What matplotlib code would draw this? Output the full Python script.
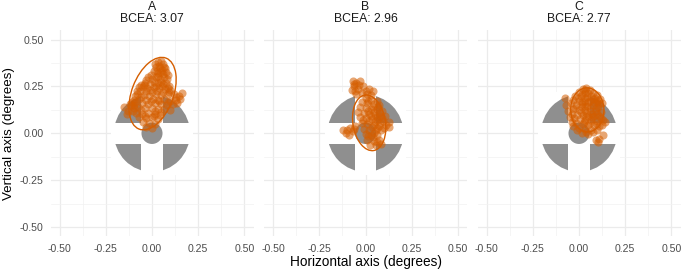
import matplotlib
matplotlib.use("Agg")
import matplotlib.pyplot as plt
from matplotlib.patches import Circle, Rectangle, Ellipse

plt.rcParams['font.family'] = ['Liberation Sans', 'DejaVu Sans']

# ---------------- data ----------------
panels = ["A", "B", "C"]
bcea = ["3.07", "2.96", "2.77"]

a_x = [0.03, 0.05, 0.06, 0.04, 0.07, 0.02, 0.055, 0.075, 0.01, 0.035, 0.06, 0.085,
       -0.02, 0.0, 0.02, 0.045, 0.08, -0.04, -0.01, 0.03, 0.06, 0.09, -0.05, -0.025, 0.01, 0.04, 0.07, 0.1, -0.065, 0.0,
       -0.08, -0.045, -0.015, 0.02, 0.05, 0.085, 0.12, 0.145, -0.07, -0.03, 0.005, 0.035, 0.065, 0.1, 0.13,
       -0.09, -0.055, -0.02, 0.015, 0.05, 0.08, 0.115, -0.075, -0.04, 0.0, 0.03, 0.065, 0.1,
       -0.15, -0.13, -0.115, -0.105, -0.135,
       0.16, 0.15, 0.135,
       -0.085, -0.055, -0.02, 0.015, 0.045, -0.07, -0.035, 0.0, 0.03, -0.05, -0.015, 0.015, -0.03, 0.0,
       0.015, 0.045, 0.065, 0.025, 0.05, -0.005, 0.03, 0.065, -0.03, 0.01, 0.05, 0.075, -0.045, 0.02, 0.055, 0.085,
       -0.035, -0.01, 0.025, 0.06, 0.09, -0.06, -0.005, 0.04, 0.085, -0.06, 0.015, 0.05, -0.1, 0.13, -0.04, 0.01,
       -0.1, -0.09, -0.11, -0.07, -0.06, -0.095, -0.08, -0.12]
a_y = [0.38, 0.385, 0.37, 0.36, 0.35, 0.355, 0.34, 0.33, 0.335, 0.32, 0.315, 0.31,
       0.30, 0.29, 0.30, 0.29, 0.29, 0.27, 0.265, 0.27, 0.265, 0.255, 0.245, 0.24, 0.245, 0.24, 0.235, 0.23, 0.225, 0.22,
       0.21, 0.205, 0.2, 0.21, 0.205, 0.21, 0.21, 0.2, 0.185, 0.18, 0.185, 0.18, 0.185, 0.175, 0.18,
       0.165, 0.16, 0.155, 0.16, 0.155, 0.15, 0.155, 0.14, 0.135, 0.135, 0.13, 0.13, 0.125,
       0.14, 0.12, 0.145, 0.12, 0.105,
       0.215, 0.185, 0.16,
       0.11, 0.105, 0.11, 0.105, 0.1, 0.085, 0.08, 0.085, 0.075, 0.06, 0.055, 0.05, 0.035, 0.03,
       0.37, 0.35, 0.355, 0.335, 0.325, 0.31, 0.305, 0.3, 0.285, 0.275, 0.275, 0.27, 0.26, 0.255, 0.25, 0.24,
       0.225, 0.23, 0.225, 0.22, 0.22, 0.195, 0.17, 0.17, 0.165, 0.125, 0.12, 0.115, 0.15, 0.195, 0.095, 0.09,
       0.18, 0.2, 0.165, 0.245, 0.26, 0.135, 0.225, 0.155]

b_x = [-0.07, -0.05, -0.03, -0.06, -0.04, -0.015, -0.075, -0.02, 0.0, 0.02, 0.04, 0.03, -0.05,
       0.0, 0.03, 0.06, -0.02, 0.01, 0.045, 0.075, -0.03, 0.0, 0.03, 0.06, 0.09, -0.04, -0.01, 0.02, 0.05, 0.08, 0.105,
       -0.03, 0.0, 0.035, 0.065, 0.095, -0.02, 0.01, 0.045, 0.075, 0.11, -0.01, 0.02, 0.055, 0.085,
       -0.12, -0.105, -0.085, -0.07, -0.055, -0.09,
       0.13, 0.125,
       0.0, 0.03, 0.065, 0.01, 0.045, 0.075, 0.025, 0.055, 0.085,
       -0.065, -0.035, -0.055, 0.01, 0.015, 0.04, 0.07, 0.015, 0.045, 0.075, 0.03, 0.06, 0.09,
       -0.015, 0.02, 0.05, 0.08, 0.035, 0.065, 0.1, 0.045, 0.015, 0.04, -0.1, -0.065, 0.06]
b_y = [0.28, 0.27, 0.28, 0.25, 0.235, 0.25, 0.23, 0.215, 0.225, 0.235, 0.225, 0.205, 0.21,
       0.19, 0.18, 0.175, 0.165, 0.16, 0.155, 0.15, 0.14, 0.135, 0.13, 0.13, 0.12, 0.115, 0.11, 0.105, 0.1, 0.095, 0.09,
       0.085, 0.08, 0.075, 0.07, 0.065, 0.055, 0.05, 0.045, 0.04, 0.045, 0.025, 0.02, 0.015, 0.02,
       0.02, 0.0, 0.03, 0.01, 0.04, -0.01,
       0.06, 0.035,
       -0.005, -0.01, -0.01, -0.035, -0.04, -0.035, -0.06, -0.065, -0.055,
       0.265, 0.26, 0.225, 0.21, 0.17, 0.14, 0.14, 0.12, 0.115, 0.11, 0.09, 0.085, 0.08,
       0.07, 0.065, 0.06, 0.055, 0.035, 0.03, 0.03, 0.0, -0.015, -0.02, 0.015, 0.025, -0.045]

c_x = [0.02, 0.04, 0.06, 0.0, 0.03, 0.075, 0.1, -0.02, 0.01, 0.045, 0.085, 0.115,
       -0.035, 0.0, 0.03, 0.06, 0.095, 0.125, -0.045, -0.015, 0.015, 0.045, 0.075, 0.105,
       -0.03, 0.0, 0.03, 0.06, 0.09, 0.12, -0.04, -0.01, 0.02, 0.05, 0.08, 0.11,
       -0.025, 0.005, 0.035, 0.065, 0.095, 0.13, -0.015, 0.02, 0.05, 0.08, 0.11,
       0.0, 0.035, 0.065, 0.1, 0.14,
       -0.075, -0.07, -0.06, -0.05,
       -0.03, 0.015, 0.05, 0.09, 0.11, 0.13, 0.105,
       0.03, 0.05, 0.07, 0.04,
       0.03, 0.05, 0.015, 0.065, 0.03, -0.005, 0.075, 0.1, 0.015, 0.08, 0.11, -0.02, 0.015, 0.06,
       0.09, 0.01, 0.1, 0.07, 0.04, 0.12, 0.025, 0.06, 0.095, 0.125, -0.04, 0.075, -0.01, 0.04]
c_y = [0.235, 0.24, 0.23, 0.22, 0.215, 0.215, 0.205, 0.2, 0.2, 0.195, 0.19, 0.185,
       0.18, 0.175, 0.17, 0.175, 0.165, 0.16, 0.16, 0.15, 0.155, 0.145, 0.15, 0.14,
       0.13, 0.125, 0.125, 0.12, 0.12, 0.115, 0.105, 0.1, 0.1, 0.095, 0.095, 0.09,
       0.08, 0.075, 0.07, 0.07, 0.065, 0.07, 0.055, 0.05, 0.045, 0.045, 0.04,
       0.03, 0.025, 0.02, 0.02, 0.06,
       0.19, 0.15, 0.12, 0.085,
       0.04, 0.0, -0.005, -0.035, -0.03, -0.01, -0.045,
       0.145, 0.165, 0.105, 0.11,
       0.23, 0.215, 0.21, 0.2, 0.19, 0.19, 0.185, 0.18, 0.165, 0.165, 0.155, 0.135, 0.14, 0.135,
       0.135, 0.115, 0.105, 0.085, 0.085, 0.08, 0.06, 0.055, 0.05, 0.045, 0.06, 0.005, 0.015, 0.005]

points_x = [a_x, b_x, c_x]
points_y = [a_y, b_y, c_y]

# BCEA ellipses: centre x, centre y, full width, full height, angle (deg)
ell_cx = [0.003, 0.02, 0.045]
ell_cy = [0.212, 0.056, 0.125]
ell_w = [0.406, 0.30, 0.235]
ell_h = [0.225, 0.176, 0.18]
ell_ang = [68.8, 99.4, 92.0]

ticks = [-0.50, -0.25, 0.00, 0.25, 0.50]
tick_labels = ["-0.50", "-0.25", "0.00", "0.25", "0.50"]
minor_ticks = [-0.375, -0.125, 0.125, 0.375]

# fixation target geometry
target_r = 0.206
target_gap = 0.057
target_dot = 0.057
target_bg = 0.22

orange = "#D55E00"
gray = "#8F8F8F"

W, H = 685, 271
fig = plt.figure(figsize=(W / 100, H / 100), dpi=100)

centers = [152, 365.5, 579]
pw = 203
ph = 206
ptop = 30.3

for i, name in enumerate(panels):
    left = (centers[i] - pw / 2) / W
    bottom = (H - (ptop + ph)) / H
    ax = fig.add_axes([left, bottom, pw / W, ph / H])
    ax.set_xlim(-0.55, 0.55)
    ax.set_ylim(-0.55, 0.55)
    ax.set_xticks(ticks)
    ax.set_xticklabels(tick_labels)
    ax.set_yticks(ticks)
    ax.set_xticks(minor_ticks, minor=True)
    ax.set_yticks(minor_ticks, minor=True)
    if i == 0:
        ax.set_yticklabels(tick_labels)
    else:
        ax.set_yticklabels([])
    ax.tick_params(which="both", length=0, labelsize=7.6, colors="#4D4D4D")
    ax.tick_params(axis="x", pad=5.5)
    ax.tick_params(axis="y", pad=5)
    ax.grid(which="major", color="#EBEBEB", linewidth=0.9)
    ax.grid(which="minor", color="#F2F2F2", linewidth=0.5)
    ax.set_axisbelow(True)
    for s in ax.spines.values():
        s.set_visible(False)

    # target
    ax.add_patch(Rectangle((-target_bg, -target_bg), 2 * target_bg, 2 * target_bg,
                           facecolor="white", edgecolor="none", zorder=1))
    ax.add_patch(Circle((0, 0), target_r, facecolor=gray, edgecolor="none", zorder=1.1))
    ax.add_patch(Rectangle((-target_bg, -target_gap), 2 * target_bg, 2 * target_gap,
                           facecolor="white", edgecolor="none", zorder=1.2))
    ax.add_patch(Rectangle((-target_gap, -target_bg), 2 * target_gap, 2 * target_bg,
                           facecolor="white", edgecolor="none", zorder=1.2))
    ax.add_patch(Circle((0, 0), target_dot, facecolor=gray, edgecolor="none", zorder=1.3))

    ax.scatter(points_x[i], points_y[i], s=34, color=orange, alpha=0.55,
               linewidths=0, zorder=3)
    ax.add_patch(Ellipse((ell_cx[i], ell_cy[i]), ell_w[i], ell_h[i], angle=ell_ang[i],
                         facecolor="none", edgecolor=orange, linewidth=1.0, zorder=4))

    fig.text(centers[i] / W, 1 - 6.5 / H, name, ha="center", va="center",
             fontsize=8.8, color="#1A1A1A")
    fig.text(centers[i] / W, 1 - 19.5 / H, f"BCEA: {bcea[i]}", ha="center", va="center",
             fontsize=8.8, color="#1A1A1A")

fig.text(9 / W, 1 - 133 / H, "Vertical axis (degrees)", rotation=90, ha="center",
         va="center", fontsize=9.6, color="black")
fig.text(centers[1] / W, 1 - 262 / H, "Horizontal axis (degrees)", ha="center",
         va="center", fontsize=9.8, color="black")

fig.savefig("out.png", dpi=100, facecolor="white")
